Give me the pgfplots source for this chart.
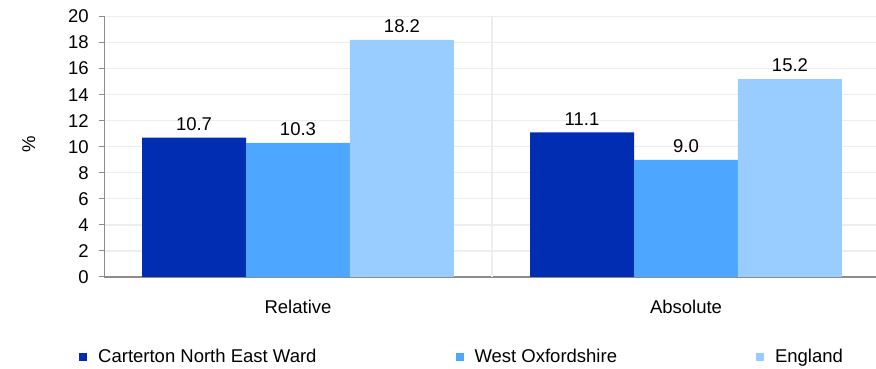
\documentclass[border=0pt]{standalone}
\usepackage{fontspec}
\setmainfont{Liberation Sans}
\usepackage{pgfplots}
\pgfplotsset{compat=1.18}
\definecolor{c1}{RGB}{0,45,178}
\definecolor{c2}{RGB}{77,166,255}
\definecolor{c3}{RGB}{153,204,255}
\definecolor{gridc}{RGB}{238,238,238}
\definecolor{axc}{RGB}{140,140,140}
\newcommand{\fs}{\fontsize{18.5}{22}\selectfont}
\begin{document}
\fs
\begin{tikzpicture}[x=1pt,y=1pt]
\useasboundingbox (0,0) rectangle (876,369);
\begin{axis}[
 at={(104pt,92pt)}, anchor=south west, scale only axis,
 width=776pt, height=260.5pt,
 xmin=-0.5, xmax=1.5, ymin=0, ymax=20,
 ybar=0pt, bar width=0.268,
 xtick={0,1}, xticklabels={Relative,Absolute},
 extra x ticks={0.5}, extra x tick labels={},
 extra x tick style={grid=major, major tick length=0pt},
 ytick={0,2,...,20},
 ymajorgrids,
 major grid style={gridc, line width=1.3pt},
 axis x line*=bottom, axis y line*=left,
 x axis line style={axc, line width=1.5pt},
 y axis line style={axc, line width=1pt},
 ytick style={axc, line width=1pt},
 xtick style={draw=none},
 tick align=outside, major tick length=5pt,
 /pgf/number format/assume math mode=true,
 tick label style={font=\fs, text=black},
 yticklabel style={xshift=-4pt},
 xticklabel style={yshift=-12pt},
 ylabel={\%},
 ylabel style={font=\fs, at={(axis description cs:-0.097,0.51)}, anchor=center},
 nodes near coords,
 every node near coord/.append style={font=\fs, text=black, anchor=south, yshift=1pt,
   /pgf/number format/fixed, /pgf/number format/fixed zerofill, /pgf/number format/precision=1,
   /pgf/number format/assume math mode=true},
 legend columns=3,
 legend style={font=\fs, draw=none, fill=none, inner sep=0pt,
   at={(axis description cs:0,0)}, anchor=west, xshift=-25pt, yshift=-80pt,
   /tikz/every odd column/.append style={column sep=9pt},
   /tikz/every even column/.append style={column sep=137pt}},
 legend image code/.code={\fill[#1] (0pt,-4pt) rectangle (8pt,4pt);},
]
\addplot[fill=c1, draw=none] coordinates {(0,10.7) (1,11.1)};
\addplot[fill=c2, draw=none] coordinates {(0,10.3) (1,9.0)};
\addplot[fill=c3, draw=none] coordinates {(0,18.2) (1,15.2)};
\legend{Carterton North East Ward, West Oxfordshire, England}
\end{axis}
\end{tikzpicture}
\end{document}
